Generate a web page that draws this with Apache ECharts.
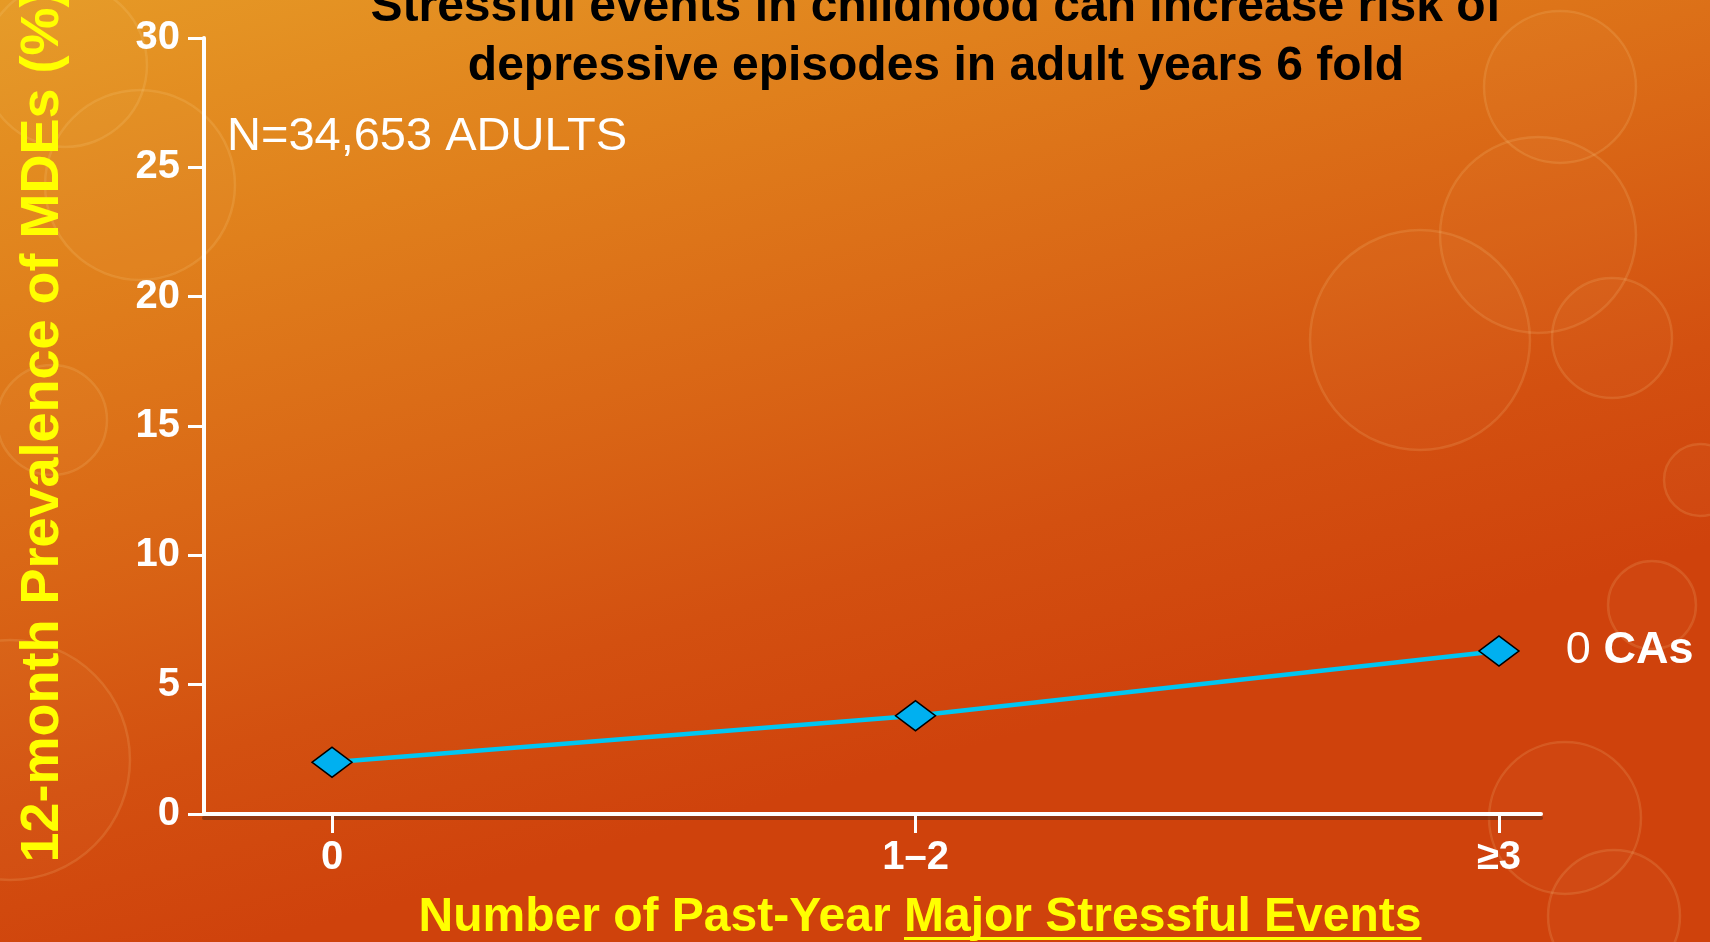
<!DOCTYPE html>
<html>
<head>
<meta charset="utf-8">
<script src="https://cdn.jsdelivr.net/npm/echarts@6/dist/echarts.min.js"></script>
<style>
html,body{margin:0;padding:0;overflow:hidden;}
#chart{width:1710px;height:942px;}
</style>
</head>
<body>
<div id="chart"></div>
<script>
// ---- data ----
const categories = ['0', '1–2', '≥3'];
const prevalence = [2.0, 3.8, 6.3];
const seriesName = '0 CAs';
const yMin = 0, yMax = 30, yStep = 5;
const titleLines = ['Stressful events in childhood can increase risk of', 'depressive episodes in adult years 6 fold'];
const sampleNote = 'N=34,653 ADULTS';
const yAxisTitle = '12-month Prevalence of MDEs (%)';
const xAxisTitlePlain = 'Number of Past-Year ';
const xAxisTitleUnderlined = 'Major Stressful Events';

const FONT = '"Liberation Sans", Arial, Helvetica, sans-serif';
const catIdx = categories.map((c, i) => i);
const seriesData = prevalence.map((v, i) => [i, v]);
const nameParts = seriesName.split(' ');

const chart = echarts.init(document.getElementById('chart'), null, {renderer: 'canvas'});

// measure x-axis title for underline
const mctx = document.createElement('canvas').getContext('2d');
mctx.font = 'bold 48px ' + FONT;
const w1 = mctx.measureText(xAxisTitlePlain).width;
const wAll = mctx.measureText(xAxisTitlePlain + xAxisTitleUnderlined).width;
const xTitleCenter = 920;
const xTitleLeft = xTitleCenter - wAll / 2;

const circles = [
  [65, 65, 82], [140, 185, 95], [52, 420, 55], [10, 760, 120],
  [1560, 87, 76], [1538, 235, 98], [1612, 338, 60], [1700, 480, 36],
  [1652, 605, 44], [1565, 818, 76], [1614, 916, 66], [1420, 340, 110]
].map(c => ({
  type: 'circle', silent: true, z: -10,
  shape: {cx: c[0], cy: c[1], r: c[2]},
  style: {fill: 'rgba(255,230,150,0.03)', stroke: 'rgba(255,225,160,0.14)', lineWidth: 2.5}
}));

const option = {
  backgroundColor: {
    type: 'linear', x: 0, y: 0, x2: 0.15, y2: 1,
    colorStops: [
      {offset: 0, color: '#E69A26'},
      {offset: 0.3, color: '#E0801C'},
      {offset: 0.55, color: '#DA6816'},
      {offset: 0.8, color: '#D35010'},
      {offset: 1, color: '#CF420C'}
    ]
  },
  animation: false,
  title: {
    text: titleLines.join('\n'),
    left: 931, top: -27, textAlign: 'center',
    textStyle: {fontFamily: FONT, fontSize: 48, fontWeight: 'bold', color: '#000', lineHeight: 59}
  },
  grid: {left: 204, right: 169, top: 38, bottom: 128, containLabel: false, outerBoundsMode: 'none'},
  xAxis: {
    type: 'value', min: -0.2194, max: 2.072,
    axisLine: {show: true, onZero: false, lineStyle: {color: '#fff', width: 4, shadowColor: 'rgba(90,40,20,0.55)', shadowOffsetY: 4, shadowBlur: 0}},
    axisTick: {show: true, customValues: catIdx, length: 19, lineStyle: {color: '#fff', width: 3}},
    axisLabel: {
      customValues: catIdx, margin: 24,
      formatter: v => categories[Math.round(v)],
      color: '#fff', fontFamily: FONT, fontSize: 40, fontWeight: 'bold'
    },
    splitLine: {show: false}
  },
  yAxis: {
    type: 'value', min: yMin, max: yMax, interval: yStep,
    name: yAxisTitle, nameLocation: 'middle', nameRotate: 90, nameGap: 134,
    nameTextStyle: {color: '#FFFF00', fontFamily: FONT, fontSize: 54, fontWeight: 'bold'},
    axisLine: {show: true, onZero: false, lineStyle: {color: '#fff', width: 4}},
    axisTick: {show: true, length: 16, lineStyle: {color: '#fff', width: 3}},
    axisLabel: {margin: 24, color: '#fff', fontFamily: FONT, fontSize: 40, fontWeight: 'bold'},
    splitLine: {show: false}
  },
  series: [{
    name: seriesName,
    type: 'line',
    data: seriesData,
    symbol: 'diamond',
    symbolSize: [40, 30],
    lineStyle: {color: '#00C6F2', width: 4.5},
    itemStyle: {color: '#00B0F0', borderColor: '#000', borderWidth: 1.5},
    z: 5,
    label: {
      show: true, position: 'right', distance: 46,
      formatter: p => p.dataIndex === prevalence.length - 1 ? '{n|' + nameParts[0] + ' }{b|' + nameParts.slice(1).join(' ') + '}' : '',
      rich: {
        n: {color: '#fff', fontFamily: FONT, fontSize: 45, fontWeight: 'normal'},
        b: {color: '#fff', fontFamily: FONT, fontSize: 45, fontWeight: 'bold'}
      }
    }
  }],
  graphic: circles.concat([
    {
      type: 'text', x: 227, y: 137, silent: true,
      style: {text: sampleNote, fill: '#fff', font: '47px ' + FONT, textAlign: 'left', textVerticalAlign: 'middle'}
    },
    {
      type: 'text', x: xTitleLeft, y: 918, silent: true,
      style: {text: xAxisTitlePlain + xAxisTitleUnderlined, fill: '#FFFF00', font: 'bold 48px ' + FONT, textAlign: 'left', textVerticalAlign: 'middle'}
    },
    {
      type: 'rect', silent: true,
      shape: {x: xTitleLeft + w1, y: 937, width: wAll - w1, height: 3},
      style: {fill: '#FFFF00'}
    }
  ])
};
chart.setOption(option);
</script>
</body>
</html>
